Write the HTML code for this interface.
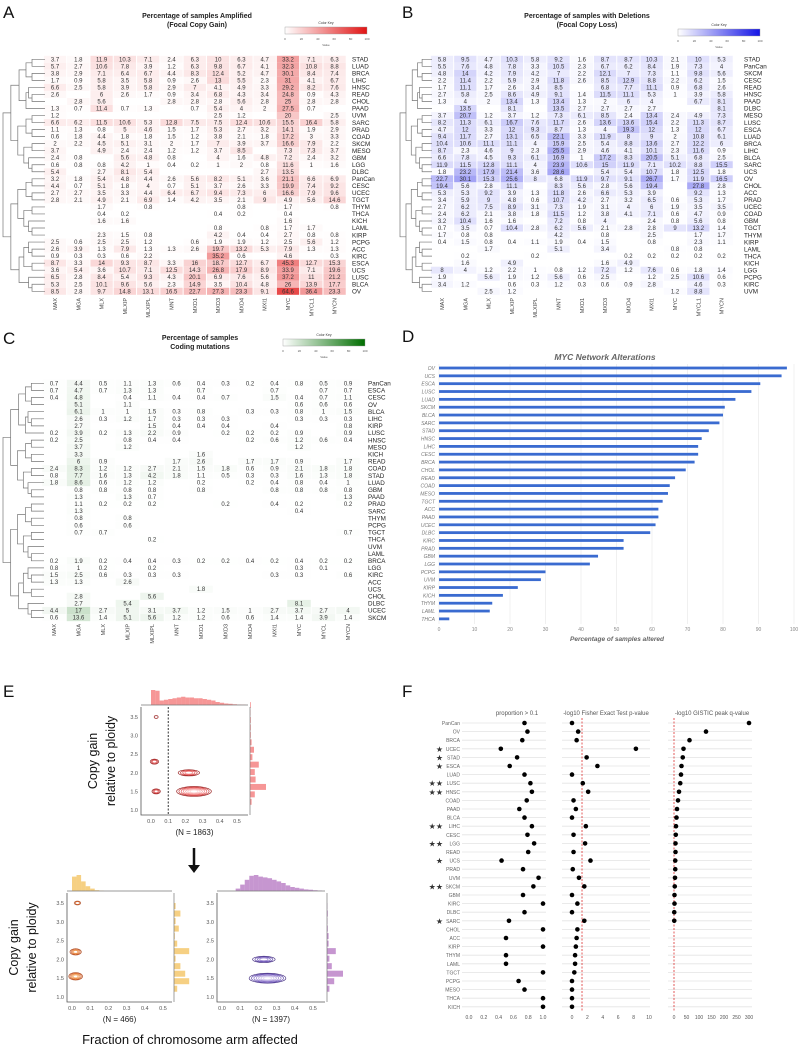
<!DOCTYPE html>
<html><head><meta charset="utf-8"><style>
html,body{margin:0;padding:0;background:#fff}
svg{display:block;font-family:"Liberation Sans",sans-serif}
</style></head><body>
<svg id="fig" width="800" height="1049" viewBox="0 0 800 1049" xmlns="http://www.w3.org/2000/svg"></svg>
<script>
// ---------- DATA ----------
const cols13=["MAX","MGA","MLX","MLXIP","MLXIPL","MNT","MXD1","MXD3","MXD4","MXI1","MYC","MYCL1","MYCN"];
const colsC=["MAX","MGA","MLX","MLXIP","MLXIPL","MNT","MXD1","MXD3","MXD4","MXI1","MYC","MYCL","MYCN"];
const A_rows=["STAD","LUAD","BRCA","LIHC","HNSC","READ","CHOL","PAAD","UVM","SARC","PRAD","COAD","SKCM","MESO","GBM","LGG","DLBC","PanCan","CESC","UCEC","TGCT","THYM","THCA","KICH","LAML","KIRP","PCPG","ACC","KIRC","ESCA","UCS","LUSC","BLCA","OV"];
const A_vals=["3.7,1.8,11.9,10.3,7.1,2.4,6.3,10,6.3,4.7,33.2,7.1,6.3","5.7,2.7,10.6,7.8,3.9,1.2,6.3,9.8,6.7,4.1,32.3,10.8,8.8","3.8,2.9,7.1,6.4,6.7,4.4,8.3,12.4,5.2,4.7,30.1,8.4,7.4","1.7,0.9,5.8,3.5,5.8,0.9,2.6,13,5.5,2.3,31,4.1,6.7","6.6,2.5,5.8,3.9,5.8,2.9,7,4.1,4.9,3.3,29.2,8.2,7.6","2.6,,6,2.6,1.7,0.9,3.4,6.8,4.3,3.4,24.8,0.9,4.3",",2.8,5.6,,,2.8,2.8,2.8,5.6,2.8,25,2.8,2.8","1.3,0.7,11.4,0.7,1.3,,0.7,5.4,4,2,27.5,0.7,","1.2,,,,,,,2.5,1.2,,20,,2.5","6.6,6.2,11.5,10.6,5.3,12.8,7.5,7.5,12.4,10.6,15.5,16.4,5.8","1.1,1.3,0.8,5,4.6,1.5,1.7,5.3,2.7,3.2,14.1,1.9,2.9","0.6,1.8,4.4,1.8,1.8,1.5,1.2,3.8,2.1,1.8,17.2,3,3.3","2,2.2,4.5,5.1,3.1,2,1.7,7,3.9,3.7,16.6,7.9,2.2","3.7,,4.9,2.4,2.4,1.2,1.2,3.7,8.5,,7.3,7.3,3.7","2.4,0.8,,5.6,4.8,0.8,,4,1.6,4.8,7.2,2.4,3.2","0.6,0.8,0.8,4.2,1,0.4,0.2,1,2,0.8,11.6,1,1.6","5.4,,2.7,8.1,5.4,,,,,2.7,13.5,,","3.2,1.8,5.4,4.8,4.4,2.6,5.6,8.2,5.1,3.6,21.1,6.6,6.9","4.4,0.7,5.1,1.8,4,0.7,5.1,3.7,2.6,3.3,19.9,7.4,9.2","2.7,2.7,3.5,3.3,4.4,6.4,6.7,9.4,7.3,6,16.6,7.9,9.6","2.8,2.1,4.9,2.1,6.9,1.4,4.2,3.5,2.1,9,4.9,5.6,14.6",",,1.7,,0.8,,,,0.8,,1.7,,0.8",",,0.4,0.2,,,,0.4,0.2,,0.4,,",",,1.6,1.6,,,,,,,1.6,,",",,,,,,,0.8,,0.8,1.7,1.7,",",,2.3,1.5,0.8,,,4.2,0.4,0.4,2.7,0.8,0.8","2.5,0.6,2.5,2.5,1.2,,0.6,1.9,1.9,1.2,2.5,5.6,1.2","2.6,3.9,1.3,7.9,1.3,1.3,2.6,19.7,13.2,5.3,7.9,1.3,1.3","0.9,0.3,0.3,0.6,2.2,,,35.2,0.6,,4.6,,0.3","8.7,3.3,14,9.3,8.7,3.3,16,18.7,12.7,6.7,45.3,12.7,15.3","3.6,5.4,3.6,10.7,7.1,12.5,14.3,26.8,17.9,8.9,33.9,7.1,19.6","6.5,2.8,8.4,5.4,9.3,4.3,20.1,6.9,7.6,5.6,37.2,11,21.2","5.3,2.5,10.1,9.6,5.6,2.3,14.9,3.5,10.4,4.8,26,13.9,17.7","8.5,2.8,9.7,14.8,13.1,16.5,22.7,27.3,23.3,9.1,64.6,36.4,23.3"];
const B_rows=["STAD","PanCan","SKCM","CESC","READ","HNSC","PAAD","DLBC","MESO","LUSC","ESCA","LUAD","BRCA","LIHC","BLCA","SARC","UCS","OV","CHOL","ACC","PRAD","UCEC","COAD","GBM","TGCT","THYM","KIRP","LAML","THCA","KICH","LGG","PCPG","KIRC","UVM"];
const B_vals=["5.8,9.5,4.7,10.3,5.8,9.2,1.6,8.7,8.7,10.3,2.1,10,5.3","5.5,7.6,4.8,7.8,3.3,10.5,2.3,6.7,6.2,8.4,1.9,7.3,4","4.8,14,4.2,7.9,4.2,7,2.2,12.1,7,7.3,1.1,9.8,5.6","2.2,11.4,2.2,5.9,2.9,11.8,2.6,8.5,12.9,8.8,2.2,6.2,1.5","1.7,11.1,1.7,2.6,3.4,8.5,,6.8,7.7,11.1,0.9,6.8,2.6","2.7,5.8,2.5,8.6,4.9,9.1,1.4,11.5,11.1,5.3,1,3.9,5.8","1.3,4,2,13.4,1.3,13.4,1.3,2,6,4,,6.7,8.1",",13.5,,8.1,,13.5,2.7,2.7,2.7,2.7,,,8.1","3.7,20.7,1.2,3.7,1.2,7.3,6.1,8.5,2.4,13.4,2.4,4.9,7.3","8.2,11.3,6.1,16.7,7.6,11.7,2.6,13.6,13.6,15.4,2.2,11.3,8.7","4.7,12,3.3,12,9.3,8.7,1.3,4,19.3,12,1.3,12,6.7","9.4,11.7,2.7,13.1,6.5,22.1,3.3,11.9,8,9,2,10.8,6.1","10.4,10.6,11.1,11.1,4,15.9,2.5,5.4,8.8,13.6,2.7,12.2,6","8.7,2.3,4.6,9,2.3,25.5,2.9,4.6,4.1,10.1,2.3,11.6,0.9","6.6,7.8,4.5,9.3,6.1,16.9,1,17.2,8.3,20.5,5.1,6.8,2.5","11.9,11.5,12.8,11.1,4,23.9,10.6,15,11.9,7.1,10.2,8.8,15.5","1.8,23.2,17.9,21.4,3.6,28.6,,5.4,5.4,10.7,1.8,12.5,1.8","22.7,30.1,15.3,25.6,8,6.8,11.9,9.7,9.1,26.7,1.7,11.9,16.5","19.4,5.6,2.8,11.1,,8.3,5.6,2.8,5.6,19.4,,27.8,2.8","5.3,5.3,9.2,3.9,1.3,11.8,2.6,6.6,5.3,3.9,,9.2,1.3","3.4,5.9,9,4.8,0.6,10.7,4.2,2.7,3.2,6.5,0.6,5.3,1.7","2.7,6.2,7.5,8.9,3.1,7.3,1.9,3.1,4,6,1.9,3.5,3.5","2.4,6.2,2.1,3.8,1.8,11.5,1.2,3.8,4.1,7.1,0.6,4.7,0.9","3.2,10.4,1.6,1.6,,7.2,0.8,4,,2.4,0.8,5.6,0.8","0.7,3.5,0.7,10.4,2.8,6.2,5.6,2.1,2.8,2.8,9,13.2,1.4","1.7,0.8,0.8,,,4.2,,0.8,,2.5,,1.7,1.7","0.4,1.5,0.8,0.4,1.1,1.9,0.4,1.5,,0.8,,2.3,1.1",",,1.7,,,5.1,,3.4,,,0.8,0.8,",",0.2,,,0.2,,,,0.2,0.2,0.2,0.2,0.2",",1.6,,4.9,,,,1.6,4.9,,,,","8,4,1.2,2.2,1,0.8,1.2,7.2,1.2,7.6,0.6,1.8,1.4","1.9,,5.6,1.9,1.2,5.6,0.6,2.5,,1.2,2.5,10.6,0.6","3.4,1.2,,0.6,0.3,1.2,0.3,0.6,0.9,2.8,,4.6,0.3",",,2.5,1.2,,,,,,,1.2,8.8,"];
const C_rows=["PanCan","ESCA","CESC","OV","BLCA","LIHC","KIRP","LUSC","HNSC","MESO","KICH","READ","COAD","STAD","LUAD","GBM","PAAD","PRAD","SARC","THYM","PCPG","TGCT","THCA","UVM","LAML","BRCA","LGG","KIRC","ACC","UCS","CHOL","DLBC","UCEC","SKCM"];
const C_vals=["0.7,4.4,0.5,1.1,1.3,0.6,0.4,0.3,0.2,0.4,0.8,0.5,0.9","0.7,4.7,0.7,1.3,1.3,,0.7,,,0.7,,0.7,0.7","0.4,4.8,,0.4,1.1,0.4,0.4,0.7,,1.5,0.4,0.7,1.1",",5.1,,1.1,,,,,,,0.6,0.6,0.6",",6.1,1,1,1.5,0.3,0.8,,0.3,0.3,0.8,1,1.5",",2.6,0.3,1.2,1.7,0.3,0.3,0.3,,,0.3,0.3,0.3",",2.7,,,1.5,0.4,0.4,0.4,,0.4,,,0.8","0.2,3.9,0.2,1.3,2.2,0.9,,0.2,0.2,0.2,0.9,,0.9","0.2,2.5,,0.8,0.4,0.4,,,0.2,0.6,1.2,0.6,0.4",",3.7,,1.2,,,,,,,1.2,,",",3.3,,,,,1.6,,,,,,",",6,0.9,,,1.7,2.6,,1.7,1.7,0.9,,1.7","2.4,8.3,1.2,1.2,2.7,2.1,1.5,1.8,0.6,0.9,2.1,1.8,1.8","0.8,7.7,1.6,1.3,4.2,1.8,1.1,0.5,0.3,0.3,1.6,1.3,1.8","1.8,8.6,0.6,1.2,1.2,,0.2,,0.2,0.4,0.8,0.4,1",",0.8,0.8,0.8,0.8,,0.8,,,0.8,0.8,0.8,0.8",",1.3,,1.3,0.7,,,,,,,,1.3",",1.1,0.2,0.2,0.2,,,0.2,,0.4,0.2,,0.2",",1.3,,,,,,,,,0.4,,",",0.8,,0.8,,,,,,,,,",",0.6,,0.6,,,,,,,,,",",0.7,0.7,,,,,,,,,,0.7",",,,,0.2,,,,,,,,",",,,,,,,,,,,,",",,,,,,,,,,,,","0.2,1.9,0.2,0.4,0.4,0.3,0.2,0.2,0.4,0.2,0.4,0.2,0.2","0.8,1,0.2,,0.2,,,,,,0.3,0.1,","1.5,2.5,0.6,0.3,0.3,0.3,,,,0.3,0.3,,0.6","1.3,1.3,,2.6,,,,,,,,,",",,,,,,1.8,,,,,,",",2.8,,,5.6,,,,,,,,",",2.7,,5.4,,,,,,,8.1,,","4.4,17,2.7,5,3.1,3.7,1.2,1.5,1,2.7,3.7,2.7,4","0.6,13.6,1.4,5.1,5.6,1.2,1.2,0.6,0.6,1.4,1.4,3.9,1.4"];
const D_cats=["OV","UCS","ESCA","LUSC","LUAD","SKCM","BLCA","SARC","STAD","HNSC","LIHC","CESC","BRCA","CHOL","READ","COAD","MESO","TGCT","ACC","PAAD","UCEC","DLBC","KIRC","PRAD","GBM","LGG","PCPG","UVM","KIRP","KICH","THYM","LAML","THCA"];
const D_vals=[98,96.5,90.5,88,83.5,80.5,80,79,76,74,73,73,72,69.5,66.5,65,64.5,63,61.8,61.8,61,59.5,52,52,44.8,42.5,30,28.7,22.2,18,15,14.3,2.9];
const D_ticks=[0,10,20,30,40,50,60,70,80,90,100];
const F_cats=["PanCan","OV","BRCA","UCEC","STAD","ESCA","LUAD","LUSC","HNSC","COAD","PAAD","BLCA","LIHC","CESC","LGG","READ","UCS","PRAD","UVM","SKCM","GBM","KIRC","DLBC","SARC","CHOL","ACC","KIRP","THYM","LAML","TGCT","PCPG","MESO","THCA","KICH"];
const F_stars=[0,0,0,1,1,1,0,2,2,0,0,0,2,0,2,0,1,0,0,2,0,0,0,1,0,0,0,0,0,0,0,0,0,0];
const F_prop=[.75,.79,.72,.43,.65,.55,.75,.83,.85,.78,.68,.75,.85,.79,.88,.80,.44,.73,.94,.87,.73,1,.75,.54,1,.50,1,.5,.5,1,.67,.75,1,1];
const F_fisher=[0,0.8,0.6,8.3,1.9,3.3,0,1.4,2.1,0.2,0.5,0,1.8,0.2,1.7,0.2,2.4,0.1,0.9,1.6,0,0.7,0,1.6,0.7,0.6,0.5,0.4,0.4,0.3,0,0,0,0];
const F_gistic=[300,128,62,38,35,30,28,25,20,16,12,10,8,7,6,6,5,5,4,3,2,2,1,1,null,null,null,null,null,null,null,null,null,null];
const F_ticks1=[0,0.2,0.4,0.6,0.8,1.0];
const F_ticks2=[0,2,4,6,8,10];
const F_ticks3=[0,50,100,150,200,250,300];
// E contour peaks: [x, y, level count]
const E_top_peaks=[[0.25,1.5,7],[0.22,2.0,4],[0.02,2.3,3],[0.03,1.5,3],[0.03,3.5,1]];
const E_left_peaks=[[0.02,1.55,5],[0.02,2.2,4],[0.03,3.5,2]];
const E_right_peaks=[[0.25,1.5,7],[0.23,2.0,4]];
const E_top_xhist=[1.0,0.95,0.3,0.35,0.4,0.45,0.5,0.55,0.5,0.5,0.45,0.45,0.4,0.35,0.3,0.2,0.15,0.1,0.08,0.05,0.03,0.02];
const E_left_xhist=[0.9,1.0,0.6,0.3,0.15,0.05,0.02,0,0,0,0,0,0,0,0,0,0,0,0,0,0,0];
const E_right_xhist=[0,0,0,0.15,0.4,0.7,0.95,1.0,0.9,0.85,0.8,0.7,0.6,0.5,0.35,0.25,0.2,0.15,0.1,0.08,0.05,0.03];
const E_top_yhist=[0,0.1,0.3,1.0,0.35,0.3,0.55,0.15,0.25,0.1,0.05,0.05,0.05,0.03,0.05];
const E_left_yhist=[0,0.2,0.95,0.7,0.4,0.1,0.95,0.2,0.05,0.3,0.1,0.4,0.1,0];
const E_right_yhist=[0,0.15,0.45,1.0,0.3,0.15,0.55,0.1,0.1,0.05,0.03,0.05,0.02,0];
const E_yticks=[1.0,1.5,2.0,2.5,3.0,3.5];
const E_xticks=[0.0,0.1,0.2,0.3,0.4,0.5];

// ---------- helpers ----------
const NS="http://www.w3.org/2000/svg";
const svg=document.getElementById('fig');
function mk(tag,attrs,parent,txt){const e=document.createElementNS(NS,tag);for(const k in attrs)e.setAttribute(k,attrs[k]);if(txt!==undefined)e.textContent=txt;(parent||svg).appendChild(e);return e;}
function grp(name,parent){const g=mk('g',{},parent);return g;}
function label(x,y,t,name,size,extra,parent){const a=Object.assign({x:x,y:y,'font-size':size},extra||{});const e=mk('text',a,parent,t);return e;}
function mix(c,v){const t=Math.min(1,Math.max(0,v/100));return `rgb(${Math.round(255+(c[0]-255)*t)},${Math.round(255+(c[1]-255)*t)},${Math.round(255+(c[2]-255)*t)})`;}

// panel letters
[["A",3,18],["B",402,18],["C",3,344],["D",402,342],["E",3,697],["F",402,697]].forEach(p=>{label(p[1],p[2],p[0],'panel-label-'+p[0].toLowerCase(),17,{fill:'#111'});});

function dendro(g,x0,x1,ys){
  function rec(a,b,depth){
    if(b-a<=1)return {y:ys[a],x:x1};
    const m=Math.floor((a+b)/2)+((a+b)%3===0?1:0);const mm=Math.min(b-1,Math.max(a+1,m));
    const L=rec(a,mm,depth+1),R=rec(mm,b,depth+1);
    const x=x1-(x1-x0)*Math.min(1,Math.log2(b-a+1)/Math.log2(ys.length+1));
    const l1=mk('path',{d:`M${L.x},${L.y}H${x}V${R.y}H${R.x}`,fill:'none',stroke:'#777','stroke-width':0.7},g);
    
    
    return {y:(L.y+R.y)/2,x:x};
  }
  rec(0,ys.length,0);
}

function heatmap(cfg){
  const g=grp(cfg.name);
  label(cfg.tx,cfg.ty,cfg.t1,'heatmap-title',7,{'text-anchor':'middle','font-weight':'bold',fill:'#222'},g);
  label(cfg.tx,cfg.ty+9,cfg.t2,'heatmap-subtitle',7,{'text-anchor':'middle','font-weight':'bold',fill:'#222'},g);
  const kg=grp('color-key',g);
  const gid='grad'+cfg.name;
  const defs=mk('defs',{},kg);const lg=mk('linearGradient',{id:gid},defs);
  mk('stop',{offset:'0','stop-color':'#fff'},lg);mk('stop',{offset:'1','stop-color':mix(cfg.color,100)},lg);
  const kr=mk('rect',{x:cfg.kx,y:cfg.ky,width:82,height:7,fill:`url(#${gid})`,stroke:'#999','stroke-width':0.4},kg);
  
  
  label(cfg.kx+41,cfg.ky-3,'Color Key','color-key-title',3.5,{'text-anchor':'middle',fill:'#333'},kg);
  [0,20,40,60,80,100].forEach((v,i)=>{label(cfg.kx+i*16.4,cfg.ky+13,String(v),'color-key-tick',3,{'text-anchor':'middle',fill:'#555'},kg);});
  label(cfg.kx+41,cfg.ky+19,'Value','color-key-label',3,{'text-anchor':'middle',fill:'#555'},kg);
  const ys=[];
  cfg.rows.forEach((r,i)=>{
    const y=cfg.y0+i*cfg.dy;ys.push(y);
    const vals=cfg.vals[i].split(',');
    vals.forEach((s,j)=>{
      const x=cfg.x0+j*cfg.dx;
      if(s!==''){
        const v=parseFloat(s);
        const c=mk('rect',{x:x-cfg.dx/2+0.5,y:y-cfg.dy/2,width:cfg.dx-1,height:cfg.dy,fill:mix(cfg.color,v*cfg.boost)},g);
        
        
        label(x,y+2,s,'cell-value',6,{'text-anchor':'middle',fill:'#333'},g);
      }
    });
    label(cfg.lx,y+2.2,r,'row-label',6.3,{fill:'#222'},g);
  });
  cfg.cols.forEach((c,j)=>{
    const x=cfg.x0+j*cfg.dx;
    label(0,0,c,'column-label',5.5,{'text-anchor':'end',fill:'#444',transform:`translate(${x+2},${cfg.cy}) rotate(-90)`},g);
  });
  const dg=grp('row-dendrogram',g);
  dendro(dg,cfg.dx0,cfg.dx1,ys);
}
heatmap({name:'heatmap-amplified',t1:'Percentage of samples Amplified',t2:'(Focal Copy Gain)',tx:197,ty:18,kx:285,ky:27,rows:A_rows,vals:A_vals,cols:cols13,x0:55,dx:23.3,y0:59.3,dy:7.03,lx:352,cy:298,color:[225,20,20],boost:1.2,dx0:3,dx1:45});
heatmap({name:'heatmap-deletions',t1:'Percentage of samples with Deletions',t2:'(Focal Copy Loss)',tx:587,ty:18,kx:678,ky:29,rows:B_rows,vals:B_vals,cols:cols13,x0:442,dx:23.3,y0:59.3,dy:7.03,lx:744,cy:298,color:[20,20,230],boost:1.3,dx0:400,dx1:432});
heatmap({name:'heatmap-mutations',t1:'Percentage of samples',t2:'Coding mutations',tx:200,ty:340,kx:283,ky:339,rows:C_rows,vals:C_vals,cols:colsC,x0:54,dx:24.5,y0:383.3,dy:7.1,lx:368,cy:624,color:[0,110,0],boost:1.2,dx0:3,dx1:44});

// ---------- D bar chart ----------
(function(){
  const g=grp('bar-chart-myc-network');
  const xs=v=>439+v*3.55, yb=i=>368+i*7.84;
  label(605,360,'MYC Network Alterations','chart-title',8.5,{'text-anchor':'middle','font-weight':'bold','font-style':'italic',fill:'#666'},g);
  D_ticks.forEach(t=>{
    const l=mk('line',{x1:xs(t),x2:xs(t),y1:364,y2:624,stroke:'#e6e6e6','stroke-width':0.6},g);
    
    
    label(xs(t),631,String(t),'x-tick-label',5,{'text-anchor':'middle',fill:'#888'},g);
  });
  D_cats.forEach((c,i)=>{
    const r=mk('rect',{x:xs(0),y:yb(i)-1.4,width:xs(D_vals[i])-xs(0),height:2.8,fill:'#3a6bd0'},g);
    
    
    label(435,yb(i)+2,c,'y-tick-label',5,{'text-anchor':'end','font-style':'italic',fill:'#777'},g);
  });
  label(617,641,'Percentage of samples altered','x-axis-title',6.5,{'text-anchor':'middle','font-style':'italic','font-weight':'bold',fill:'#666'},g);
})();

// ---------- F dot plots ----------
(function(){
  const g=grp('dot-plots-f');
  const yr=i=>723+i*8.6;
  const panels=[
    {name:'proportion',title:'proportion > 0.1',x0:469,x1:543,max:1,lx0:462,lx1:546,data:F_prop,ticks:F_ticks1,fmt:t=>t.toFixed(1),cx:517,ref:null},
    {name:'fisher',title:'-log10 Fisher Exact Test p-value',x0:572,x1:649,max:10,lx0:562,lx1:650,data:F_fisher,ticks:F_ticks2,fmt:t=>String(t),cx:606,ref:1.3},
    {name:'gistic',title:'-log10 GISTIC peak q-value',x0:674,x1:749,max:300,lx0:668,lx1:752,data:F_gistic,ticks:F_ticks3,fmt:t=>String(t),cx:712,ref:0}];
  panels.forEach(p=>{
    const pg=grp('dot-panel-'+p.name,g);
    const sx=v=>p.x0+(p.x1-p.x0)*v/p.max;
    label(p.cx,715,p.title,'panel-title',6,{'text-anchor':'middle',fill:'#555'},pg);
    F_cats.forEach((c,i)=>{
      const l=mk('line',{x1:p.lx0,x2:p.lx1,y1:yr(i),y2:yr(i),stroke:'#e4e4e4','stroke-width':0.8},pg);
      
      
    });
    if(p.ref!==null){
      const l=mk('line',{x1:sx(p.ref),x2:sx(p.ref),y1:718,y2:1012,stroke:'#d33','stroke-width':0.8,'stroke-dasharray':'2,1.5'},pg);
      
      
    }
    F_cats.forEach((c,i)=>{
      const v=p.data[i]; if(v===null)return;
      const d=mk('circle',{cx:sx(v),cy:yr(i),r:2.3,fill:'#000'},pg);
      
      
    });
    p.ticks.forEach(t=>{label(sx(t),1019,p.fmt(t),'x-tick-label',5,{'text-anchor':'middle',fill:'#555'},pg);});
  });
  F_cats.forEach((c,i)=>{
    label(460,yr(i)+2,c,'y-tick-label',5,{'text-anchor':'end',fill:'#666'},g);
    if(F_stars[i])label(443,yr(i)+3,'★'.repeat(F_stars[i]),'significance-star',8,{'text-anchor':'end',fill:'#333'},g);
  });
})();

// ---------- E density plots ----------
function densityPlot(cfg){
  const g=grp(cfg.name);
  const sx=v=>cfg.x0+(cfg.x1-cfg.x0)*v/0.5, sy=v=>cfg.y1+(cfg.y0-cfg.y1)*(v-1)/2.5;
  const box=mk('path',{d:`M${cfg.bx0},${cfg.by0}V${cfg.by1}H${cfg.bx1}`,fill:'none',stroke:'#555','stroke-width':0.8},g);
  
  
  cfg.peaks.forEach(p=>{
    for(let k=p[2];k>=1;k--){
      const rx=(k*0.013+0.01)*(cfg.x1-cfg.x0)/0.5*(p[0]>0.1?1.0:0.5), ry=(k*0.016+0.02)*(cfg.y1-cfg.y0)/2.5;
      const e=mk('ellipse',{cx:sx(p[0]),cy:sy(p[1]),rx:rx,ry:ry,fill:'none',stroke:cfg.colors[Math.min(cfg.colors.length-1,p[2]-k)],'stroke-width':0.7,opacity:0.85},g);
      
      
    }
  });
  const bw=(cfg.x1-cfg.x0)/0.5*0.025;
  cfg.xh.forEach((h,i)=>{
    const r=mk('rect',{x:sx(i*0.025),y:cfg.by0-2-h*cfg.hh,width:bw,height:h*cfg.hh,fill:cfg.hcol,opacity:0.6},g);
    
    
  });
  const bl=mk('line',{x1:cfg.bx0,x2:cfg.bx1,y1:cfg.by0-2,y2:cfg.by0-2,stroke:'#777','stroke-width':0.7},g);
  
  
  const bh=(cfg.y1-cfg.y0)/2.5*0.2;
  cfg.yh.forEach((h,i)=>{
    const r=mk('rect',{x:cfg.bx1+2,y:sy(1+i*0.2)-bh/2,width:h*16,height:bh*0.8,fill:cfg.hcol,opacity:0.6},g);
    
    
  });
  const vl=mk('line',{x1:cfg.bx1+2,x2:cfg.bx1+2,y1:cfg.by0,y2:cfg.by1,stroke:'#777','stroke-width':0.7},g);
  
  
  E_yticks.forEach(t=>label(cfg.bx0-3,sy(t)+2,t.toFixed(1),'y-tick-label',5.5,{'text-anchor':'end',fill:'#555'},g));
  E_xticks.forEach(t=>label(sx(t),cfg.by1+8,t.toFixed(1),'x-tick-label',5.5,{'text-anchor':'middle',fill:'#555'},g));
  label((cfg.bx0+cfg.bx1)/2,cfg.by1+20,cfg.n,'sample-size-label',8,{'text-anchor':'middle',fill:'#222'},g);
  if(cfg.ytitle){
    label(0,0,'Copy gain','y-axis-title',12.5,{'text-anchor':'middle',fill:'#111',transform:`translate(${cfg.ytx},${(cfg.by0+cfg.by1)/2}) rotate(-90)`},g);
    label(0,0,'relative to ploidy','y-axis-title',12.5,{'text-anchor':'middle',fill:'#111',transform:`translate(${cfg.ytx+18},${(cfg.by0+cfg.by1)/2}) rotate(-90)`},g);
  }
  if(cfg.dash){
    const d=mk('line',{x1:sx(0.1),x2:sx(0.1),y1:cfg.by0,y2:cfg.by1,stroke:'#000','stroke-width':0.8,'stroke-dasharray':'2,1.5'},g);
    
    
  }
}
densityPlot({name:'density-all',peaks:E_top_peaks,xh:E_top_xhist,yh:E_top_yhist,x0:151,x1:237,y0:717,y1:810,bx0:141,bx1:248,by0:707,by1:815,hh:15,hcol:'#f05050',colors:['#8b0000','#c02020','#e04040','#f07070','#f59090','#f8b0b0','#fbd0d0'],n:'(N = 1863)',ytitle:true,ytx:97,dash:true});
densityPlot({name:'density-focal',peaks:E_left_peaks,xh:E_left_xhist,yh:E_left_yhist,x0:72,x1:163,y0:903,y1:997,bx0:67,bx1:172,by0:893,by1:1002,hh:16,hcol:'#f0b030',colors:['#a03000','#d05010','#e07020','#f09040','#f5b070'],n:'(N = 466)',ytitle:true,ytx:18,dash:false});
densityPlot({name:'density-broad',peaks:E_right_peaks,xh:E_right_xhist,yh:E_right_yhist,x0:222,x1:313,y0:903,y1:997,bx0:217,bx1:325,by0:893,by1:1002,hh:16,hcol:'#a050b0',colors:['#2a1070','#4a30a0','#6a50b8','#8a70c8','#a898d8','#c4b8e6','#dcd4f0'],n:'(N = 1397)',ytitle:false,dash:false});
(function(){
  const g=grp('flow-arrow');
  const l=mk('line',{x1:194,x2:194,y1:848,y2:866,stroke:'#111','stroke-width':2.5},g);
  
  
  const p=mk('polygon',{points:'188,865 200,865 194,873',fill:'#111'},g);
  
  
})();
label(190,1044,'Fraction of chromosome arm affected','x-axis-title-e',13,{'text-anchor':'middle',fill:'#111'});
</script>
</body></html>
